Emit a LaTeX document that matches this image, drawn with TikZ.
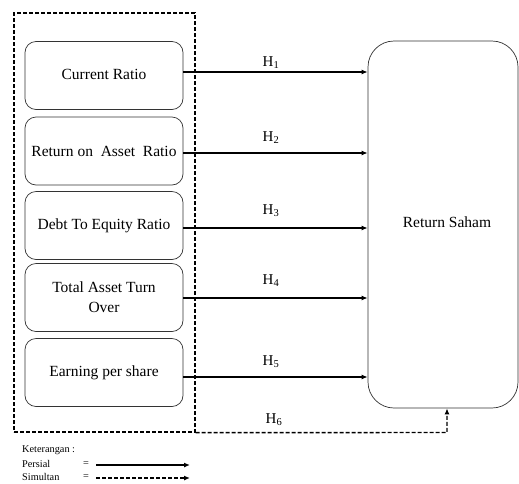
\documentclass[tikz,border=0pt]{standalone}
\usepackage{fontspec}
\setmainfont{Liberation Serif}
\usetikzlibrary{arrows.meta}
\begin{document}
\begin{tikzpicture}[x=1pt,y=-1pt,
  varbox/.style={draw=black!80,line width=0.7pt,rounded corners=11pt,minimum width=158pt,minimum height=68pt,align=center,font=\fontsize{15.5}{20}\selectfont,inner sep=0pt},
  bigbox/.style={draw=black!80,line width=0.7pt,rounded corners=26pt,minimum width=150pt,minimum height=367pt,font=\fontsize{15.5}{20}\selectfont,inner sep=0pt},
  frame/.style={draw,line width=1.3pt,dash pattern=on 4pt off 2pt,minimum width=181pt,minimum height=419pt,inner sep=0pt},
  persial/.style={line width=1.4pt,-{Latex[length=6pt,width=5pt]}},
  simultan/.style={line width=1.4pt,dash pattern=on 4pt off 2pt,-{Latex[length=6pt,width=5pt]}},
  hlab/.style={font=\fontsize{15}{18}\selectfont,inner sep=0pt},
  leg/.style={font=\fontsize{10.3}{12}\selectfont,inner sep=0pt,anchor=west}]
\useasboundingbox (0,0) rectangle (519,483);
\node[frame] (fr) at (104.5,222.5) {};
\node[varbox] (b1) at (104,75.5) {\raisebox{3pt}{Current Ratio}};
\node[varbox] (b2) at (104,151) {\raisebox{-1pt}{Return on\ \ Asset\ \ Ratio}};
\node[varbox] (b3) at (104,225.5) {\raisebox{-2pt}{Debt To Equity Ratio}};
\node[varbox] (b4) at (104,297.5) {Total Asset Turn\\Over};
\node[varbox] (b5) at (104,372.5) {\raisebox{-2pt}{Earning per share}};
\node[bigbox] (rs) at (443,224.5) {};
\node[font=\fontsize{15.5}{20}\selectfont,inner sep=0pt] (rst) at (447,222) {Return Saham};
\draw[persial] (b1.east |- {(0,72)}) -- (rs.west |- {(0,72)});
\draw[persial] (b2.east |- {(0,153)}) -- (rs.west |- {(0,153)});
\draw[persial] (b3.east |- {(0,228)}) -- (rs.west |- {(0,228)});
\draw[persial] (b4.east |- {(0,298)}) -- (rs.west |- {(0,298)});
\draw[persial] (b5.east |- {(0,377)}) -- (rs.west |- {(0,377)});
\coordinate (h6) at (447,432.5);
\draw[simultan] (fr.south east) -- (h6) -- (h6 |- rs.south);
\node[hlab] (l1) at (271,63) {H\textsubscript{1}};
\node[hlab] (l2) at (271,138) {H\textsubscript{2}};
\node[hlab] (l3) at (271,211) {H\textsubscript{3}};
\node[hlab] (l4) at (271,281) {H\textsubscript{4}};
\node[hlab] (l5) at (271,362) {H\textsubscript{5}};
\node[hlab] (l6) at (274,420) {H\textsubscript{6}};
\node[leg] (k) at (22,450) {Keterangan :};
\node[leg] (p) at (22,464) {Persial};
\node[leg] (s) at (22,477) {Simultan};
\node[leg] (e1) at (83,464) {=};
\node[leg] (e2) at (83,477) {=};
\coordinate (pa) at (96,465);
\coordinate (pb) at (190,465);
\coordinate (sa) at (96,478);
\coordinate (sb) at (190,478);
\draw[persial] (pa) -- (pb);
\draw[simultan] (sa) -- (sb);
\end{tikzpicture}
\end{document}
